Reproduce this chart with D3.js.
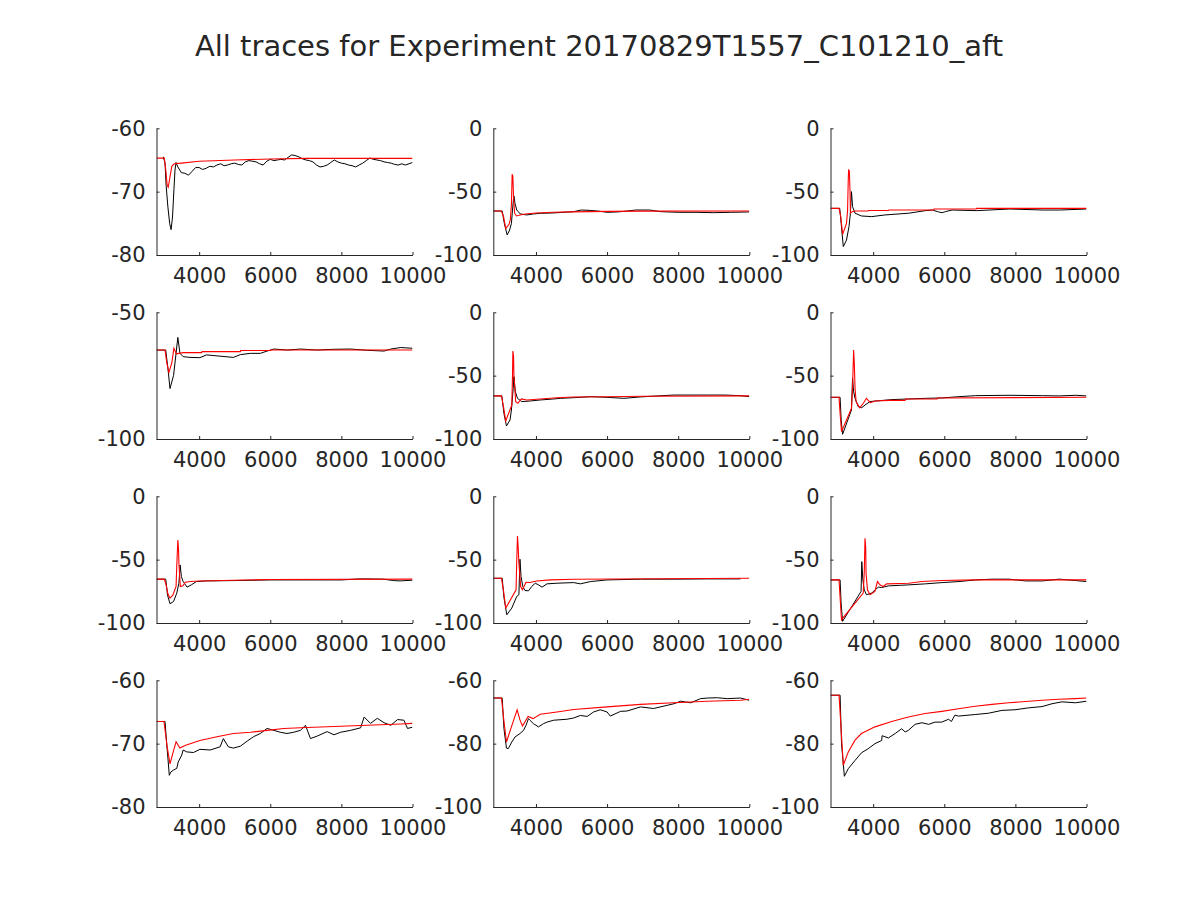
<!DOCTYPE html>
<html>
<head>
<meta charset="utf-8">
<script src="https://cdn.jsdelivr.net/npm/d3@7"></script>
<style>
  html, body { margin: 0; padding: 0; background: #ffffff; }
  svg { display: block; }
  text { font-family: "DejaVu Sans", sans-serif; fill: #262626; }
</style>
</head>
<body>
<svg id="chart" width="1200" height="900"></svg>
<script>
// ---------------- DATA ----------------
const titleText = "All traces for Experiment 20170829T1557_C101210_aft";
const xDomain = [2800, 10000];
const xTicks = [4000, 6000, 8000, 10000];

const yDomains = [
  [-80, -60], [-100, 0], [-100, 0],
  [-100, -50], [-100, 0], [-100, 0],
  [-100, 0], [-100, 0], [-100, 0],
  [-80, -60], [-100, -60], [-100, -60]
];
const yTicks = [
  [-80, -70, -60], [-100, -50, 0], [-100, -50, 0],
  [-100, -50], [-100, -50, 0], [-100, -50, 0],
  [-100, -50, 0], [-100, -50, 0], [-100, -50, 0],
  [-80, -70, -60], [-100, -80, -60], [-100, -80, -60]
];

// recorded traces (black): [time, value]
const rec1 = [[2990,-64.5],[3000,-64.7],[3040,-65.5],[3070,-69],[3120,-72.4],[3170,-75],[3210,-76.0],[3250,-74],[3290,-69.7],[3320,-66.6],[3350,-65.4],[3400,-66.1],[3500,-67.0],[3600,-67.1],[3700,-67.4],[3800,-66.8],[3900,-66.2],[4000,-66.2],[4100,-66.5],[4200,-66.3],[4300,-66.0],[4400,-66.1],[4500,-65.8],[4600,-65.6],[4700,-65.9],[4800,-65.8],[4900,-65.6],[5000,-65.5],[5100,-65.7],[5200,-65.8],[5300,-65.3],[5400,-65.1],[5500,-65.2],[5600,-65.3],[5700,-65.6],[5800,-65.8],[5900,-65.2],[6000,-64.9],[6100,-65.1],[6200,-65.0],[6300,-64.9],[6400,-65.0],[6500,-64.6],[6600,-64.2],[6700,-64.3],[6800,-64.5],[6900,-64.8],[7000,-65.0],[7100,-65.1],[7200,-65.3],[7300,-65.8],[7400,-66.1],[7500,-66.0],[7600,-65.8],[7700,-65.4],[7800,-65.0],[7900,-65.3],[8000,-65.5],[8100,-65.6],[8200,-65.8],[8300,-65.9],[8400,-66.1],[8500,-65.8],[8600,-65.5],[8700,-65.1],[8800,-64.7],[8900,-64.9],[9000,-65.0],[9100,-65.1],[9200,-65.3],[9300,-65.4],[9400,-65.5],[9500,-65.7],[9600,-65.8],[9700,-65.6],[9800,-65.8],[9900,-65.6],[10000,-65.4]];
const rec2 = [[2800,-65.3],[3050,-65.3],[3110,-75],[3190,-84.2],[3260,-80.3],[3310,-75],[3340,-64.5],[3370,-55],[3380,-53.4],[3410,-59.2],[3460,-64.5],[3560,-67.6],[3740,-68.4],[3930,-67.6],[4120,-67.1],[4500,-66.8],[5060,-65.8],[5270,-64.5],[5530,-64.8],[5800,-65.5],[6000,-66.3],[6300,-66.0],[6500,-65.5],[6800,-64.5],[7200,-64.5],[7500,-65.8],[8000,-66.3],[8500,-66.3],[9000,-66.6],[9500,-66.3],[10000,-66.0]];
const rec3 = [[2800,-63.2],[3060,-63.2],[3100,-75],[3160,-93.4],[3250,-88.2],[3320,-77.6],[3360,-67],[3390,-50],[3420,-61.8],[3490,-67],[3670,-69.2],[3960,-69.7],[4330,-68.4],[5000,-67],[5470,-65],[5660,-64.5],[5840,-66],[5940,-66.6],[6030,-65.8],[6220,-64.5],[6900,-65],[7840,-63.7],[8780,-64.5],[9250,-64.5],[10000,-63.7]];
const rec4 = [[2800,-64.9],[3060,-64.9],[3120,-72],[3180,-80.1],[3280,-74.9],[3350,-66.2],[3400,-59.9],[3460,-66.2],[3550,-67.5],[3740,-67.8],[4020,-67.9],[4210,-66.8],[4500,-67.2],[4960,-67.8],[5160,-66.7],[5440,-66.2],[5720,-66.2],[5910,-65.3],[6100,-64.5],[6480,-64.9],[6850,-64.5],[7320,-64.9],[7790,-64.6],[8260,-64.5],[8730,-65.0],[9200,-65.3],[9390,-64.5],[9670,-63.9],[10000,-64.2]];
const rec5 = [[2800,-66],[3040,-66],[3100,-80],[3170,-89.7],[3270,-85],[3310,-77.1],[3360,-60],[3380,-50.8],[3420,-62.6],[3480,-67.9],[3600,-70.5],[3840,-70],[4120,-69.2],[4500,-68.4],[4690,-67.9],[5060,-67.4],[5530,-66.6],[6000,-67.1],[6470,-67.9],[6940,-66.8],[7410,-66],[7880,-65.3],[8820,-65.3],[9290,-65.3],[9750,-65.8],[10000,-66.6]];
const rec6 = [[2800,-67.1],[3070,-67.1],[3100,-85],[3140,-96.3],[3390,-77.1],[3420,-52],[3450,-62.6],[3490,-67.9],[3580,-74.5],[3680,-75.3],[3770,-73.2],[3910,-70.5],[4060,-70],[4530,-68.9],[5000,-68.4],[5470,-67.9],[5940,-67.6],[6410,-66.6],[6880,-65.8],[7820,-65.5],[8760,-65.8],[9230,-66],[9700,-65.5],[10000,-66]];
const rec7 = [[2800,-65.4],[3060,-65.4],[3110,-78],[3180,-84.8],[3280,-83],[3370,-76.4],[3430,-68.6],[3466,-54.2],[3500,-63.4],[3550,-67.3],[3660,-71.7],[3780,-69.9],[3920,-67.3],[4200,-66.8],[5000,-66.5],[6000,-66],[7000,-66],[8000,-66],[8500,-65.2],[8710,-65.2],[9180,-65.4],[9460,-66.5],[9650,-66.8],[10000,-66.2]];
const rec8 = [[2800,-64.7],[3050,-64.7],[3100,-80],[3180,-93.5],[3320,-88.2],[3460,-79],[3520,-77.7],[3550,-49.7],[3580,-63.4],[3630,-71.2],[3690,-74.3],[3790,-74.6],[3880,-71.2],[3980,-68.6],[4070,-69.9],[4170,-71.7],[4310,-69.1],[4590,-68.6],[5060,-68.1],[5250,-69.1],[5530,-67.3],[6000,-66],[6940,-65.4],[7880,-65.4],[8820,-65.2],[9750,-65.2]];
const rec9 = [[2800,-66],[3070,-66],[3100,-85],[3140,-98.7],[3660,-75.1],[3680,-51.6],[3710,-66],[3750,-73.8],[3810,-77.7],[3960,-76.4],[4050,-73.8],[4150,-71.7],[4240,-72],[4430,-70.7],[5000,-69.9],[5470,-69.1],[5940,-68.1],[6410,-67.3],[6880,-66],[7350,-65.4],[7820,-65.4],[8290,-66.8],[8760,-66.8],[9230,-65.4],[9700,-66.5],[10000,-67.3]];
const rec10 = [[2800,-66.5],[3040,-66.5],[3090,-70.2],[3130,-72.9],[3160,-75],[3200,-74.5],[3270,-74.2],[3370,-73.9],[3410,-72.9],[3510,-71.8],[3550,-71],[3650,-71.3],[3840,-71.4],[4020,-70.9],[4310,-71],[4590,-70.5],[4680,-69.2],[4820,-70.5],[4960,-70.7],[5160,-70.4],[5350,-69.6],[5530,-68.9],[5720,-68.4],[5910,-67.6],[6100,-67.9],[6280,-68.2],[6470,-68.4],[6660,-68.2],[6850,-67.9],[6990,-67.1],[7130,-69.2],[7320,-68.8],[7600,-68.1],[7790,-68.6],[7980,-68.2],[8260,-67.9],[8540,-67.5],[8640,-65.8],[8820,-66.8],[9010,-66],[9200,-66.7],[9390,-67.1],[9580,-66.2],[9760,-66.3],[9860,-67.6],[10000,-67.4]];
const rec11 = [[2800,-65.6],[3050,-65.6],[3100,-75.3],[3170,-81.4],[3220,-81.6],[3320,-79.5],[3410,-77.9],[3550,-76.8],[3650,-75.8],[3720,-74.2],[3790,-72.1],[3830,-72.6],[3930,-73.7],[4070,-74.7],[4210,-73.7],[4310,-73.2],[4500,-72.6],[4870,-72.3],[5060,-71.9],[5250,-71.1],[5440,-71.4],[5620,-70],[5810,-69.3],[6000,-70],[6090,-71.3],[6380,-69.8],[6560,-69.7],[6940,-68.4],[7310,-68.9],[7690,-67.9],[7880,-67.4],[8070,-66.6],[8350,-67.1],[8630,-65.8],[8820,-65.6],[9100,-65.5],[9380,-65.8],[9750,-65.6],[10000,-66.3]];
const rec12 = [[2800,-64.7],[3070,-64.7],[3110,-80],[3190,-90.3],[3300,-87.9],[3490,-85.3],[3670,-82.9],[3860,-81.6],[4050,-80],[4240,-79],[4250,-77.5],[4430,-78.2],[4620,-76.8],[4800,-75.3],[4900,-76.3],[4990,-75.8],[5180,-73.9],[5370,-73.4],[5560,-73.9],[5740,-73.2],[5930,-73.2],[6120,-72.3],[6200,-73],[6300,-71],[6400,-71.3],[6870,-70.8],[7240,-70.4],[7620,-69.5],[7990,-69.3],[8370,-68.7],[8750,-68.3],[9030,-67.4],[9310,-66.8],[9690,-67.1],[10000,-66.6]];

// model traces (red): [time, value]
const mod1 = [[2800,-64.7],[3020,-64.7],[3060,-66.5],[3100,-69.0],[3130,-69.3],[3170,-68.0],[3230,-66.0],[3300,-65.6],[3500,-65.5],[4000,-65.2],[5000,-65.0],[6000,-64.85],[7000,-64.75],[10000,-64.75]];
const mod2 = [[2800,-65.3],[3030,-65.3],[3090,-70],[3150,-79],[3240,-76],[3280,-72],[3310,-60],[3330,-36.3],[3350,-38],[3370,-55],[3400,-67],[3450,-69.2],[3550,-68.4],[3700,-67.6],[4000,-66.8],[4500,-66.3],[5000,-66],[6000,-65.6],[7000,-65.4],[10000,-65.3]];
const mod3 = [[2800,-63.2],[3040,-63.2],[3090,-70],[3140,-83.7],[3250,-75],[3280,-65],[3300,-40],[3310,-32.4],[3330,-34],[3350,-50],[3360,-67],[3410,-65.8],[3500,-65.3],[3860,-65.3],[3870,-64.9],[4430,-64.9],[4440,-64.5],[5700,-64.5],[5710,-63.7],[6900,-63.7],[6910,-63.2],[10000,-63.2]];
const mod4 = [[2800,-64.9],[3040,-64.9],[3090,-70],[3150,-73.7],[3230,-70],[3290,-64.2],[3360,-66.4],[3550,-65.9],[4070,-65.9],[4080,-65.5],[5160,-65.5],[5170,-65.1],[6000,-65.1],[6010,-64.9],[10000,-64.9]];
const mod5 = [[2800,-66],[3030,-66],[3090,-75],[3150,-85.8],[3320,-73.2],[3340,-50],[3350,-30.5],[3370,-35],[3380,-49.5],[3430,-70.5],[3490,-71.8],[3590,-68.4],[3740,-69.2],[4120,-68.4],[4590,-67.4],[5060,-66.8],[6000,-66.6],[7000,-66.3],[10000,-66]];
const mod6 = [[2800,-67.1],[3040,-67.1],[3070,-80],[3110,-94.2],[3390,-75.8],[3420,-60],[3450,-29.7],[3470,-40],[3490,-60],[3520,-70.5],[3620,-75.3],[3720,-72],[3810,-67.9],[3920,-71.3],[4060,-70],[4430,-69.5],[4900,-69.5],[4910,-68.4],[5800,-68.4],[5810,-67.6],[10000,-67.1]];
const mod7 = [[2800,-65.4],[3020,-65.4],[3070,-70],[3120,-77],[3180,-80.4],[3260,-78],[3350,-71.2],[3370,-55],[3400,-34.6],[3420,-42],[3430,-52.9],[3470,-71.2],[3540,-70.7],[3610,-67.8],[3750,-67.3],[4020,-66.8],[5000,-66.2],[6000,-65.7],[10000,-65.4]];
const mod8 = [[2800,-64.7],[3030,-64.7],[3090,-75],[3150,-88.2],[3440,-73.8],[3460,-50],[3480,-31.4],[3500,-40],[3520,-52.9],[3570,-71.2],[3620,-73.8],[3720,-67.8],[3830,-68],[4020,-66.8],[4400,-66],[5060,-65.5],[10000,-64.7]];
const mod9 = [[2800,-66],[3040,-66],[3070,-80],[3110,-97.4],[3720,-76.4],[3750,-60],[3770,-33.2],[3790,-40],[3800,-60.7],[3840,-73.8],[3910,-77.7],[4050,-75.1],[4120,-67.3],[4190,-69.9],[4280,-71.2],[4380,-69.1],[5000,-68.6],[5370,-67.3],[5930,-66.5],[6870,-66],[10000,-66]];
const mod10 = [[2800,-66.5],[3010,-66.5],[3100,-70.5],[3180,-73.2],[3260,-71.5],[3350,-69.7],[3460,-70.7],[3600,-70.3],[4020,-69.5],[4500,-68.9],[4960,-68.4],[5440,-68.2],[5910,-67.9],[6380,-67.6],[6850,-67.5],[7790,-67.3],[8730,-67.1],[9670,-66.9],[10000,-66.8]];
const mod11 = [[2800,-65.6],[3030,-65.6],[3090,-72],[3170,-79.5],[3300,-75],[3470,-69.3],[3550,-72.5],[3620,-74.4],[3780,-71.4],[3920,-72.1],[4120,-70.7],[4590,-70],[5060,-69.2],[6000,-68.4],[6940,-67.6],[7880,-67.1],[8820,-66.6],[9750,-66.3],[10000,-66]];
const mod12 = [[2800,-64.7],[3040,-64.7],[3080,-72],[3160,-86.8],[3300,-82.6],[3490,-78.9],[3670,-76.8],[4050,-74.7],[4520,-73],[4990,-71.6],[5460,-70.5],[5930,-69.8],[6400,-69],[6870,-68.2],[7340,-67.6],[7810,-67.1],[8280,-66.7],[8750,-66.3],[9220,-66],[9690,-65.8],[10000,-65.6]];

const recorded = [rec1, rec2, rec3, rec4, rec5, rec6, rec7, rec8, rec9, rec10, rec11, rec12];
const modelled = [mod1, mod2, mod3, mod4, mod5, mod6, mod7, mod8, mod9, mod10, mod11, mod12];

// ---------------- LAYOUT ----------------
const colLefts = [156.5, 493.3, 830.5];
const rowTops = [128.3, 312.3, 496.3, 680.3];
const plotW = 256;
const plotH = 126.7;
const axisColor = "#262626";
const tickFont = "21px";

const svg = d3.select("#chart");

svg.append("text")
  .attr("x", 599)
  .attr("y", 56)
  .attr("text-anchor", "middle")
  .style("font-size", "29px")
  .text(titleText);

const fmt = d => String(d);

for (let i = 0; i < 12; i++) {
  const r = Math.floor(i / 3), c = i % 3;
  const g = svg.append("g")
    .attr("transform", `translate(${colLefts[c]},${rowTops[r]})`);

  const x = d3.scaleLinear().domain(xDomain).range([0, plotW]);
  const y = d3.scaleLinear().domain(yDomains[i]).range([plotH, 0]);

  const line = d3.line()
    .x(d => x(d[0]))
    .y(d => y(d[1]));

  const clipId = "clip" + i;
  g.append("clipPath").attr("id", clipId)
    .append("rect").attr("x", 0).attr("y", 0).attr("width", plotW).attr("height", plotH);

  const plotG = g.append("g").attr("clip-path", `url(#${clipId})`);
  plotG.append("path")
    .datum(recorded[i])
    .attr("fill", "none")
    .attr("stroke", "#000000")
    .attr("stroke-width", 1)
    .attr("d", line);
  plotG.append("path")
    .datum(modelled[i])
    .attr("fill", "none")
    .attr("stroke", "#ff0000")
    .attr("stroke-width", 1.1)
    .attr("d", line);

  // x axis (inward ticks)
  const xAxis = d3.axisBottom(x).tickValues(xTicks).tickSizeInner(-3).tickSizeOuter(0).tickPadding(13)
    .tickFormat(fmt);
  const xg = g.append("g").attr("transform", `translate(0,${plotH})`).call(xAxis);
  xg.select(".domain").attr("stroke", axisColor);
  xg.selectAll(".tick line").attr("stroke", axisColor);
  xg.selectAll(".tick text").style("font-size", tickFont).attr("fill", axisColor)
    .attr("font-family", "DejaVu Sans, sans-serif");

  // y axis (inward ticks)
  const yAxis = d3.axisLeft(y).tickValues(yTicks[i]).tickSizeInner(-3).tickSizeOuter(0).tickPadding(11)
    .tickFormat(fmt);
  const yg = g.append("g").call(yAxis);
  yg.select(".domain").attr("stroke", axisColor);
  yg.selectAll(".tick line").attr("stroke", axisColor);
  yg.selectAll(".tick text").style("font-size", tickFont).attr("fill", axisColor)
    .attr("font-family", "DejaVu Sans, sans-serif");
}
</script>
</body>
</html>
